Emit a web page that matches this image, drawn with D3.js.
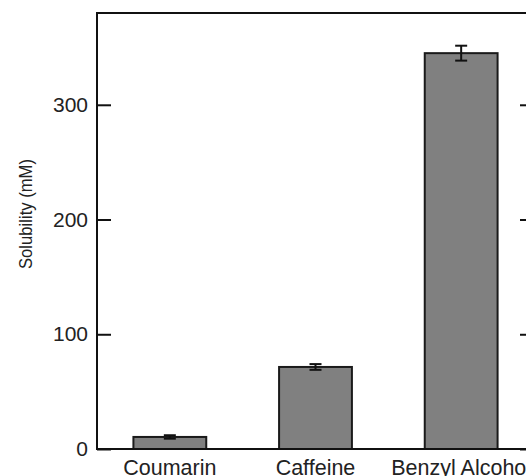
<!DOCTYPE html>
<html>
<head>
<meta charset="utf-8">
<script src="https://cdn.jsdelivr.net/npm/d3@7"></script>
<style>
  html, body { margin: 0; padding: 0; background: #ffffff; }
  svg { display: block; }
  text { font-family: "Liberation Sans", Arial, sans-serif; fill: #222; }
</style>
</head>
<body>
<svg id="chart" width="526" height="476"></svg>
<script>
// Solubility of three solutes, mean ± error
const compounds = ["Coumarin", "Caffeine", "Benzyl Alcohol"];
const solubility = [10.5, 71.5, 345];
const solubilityErr = [1.5, 2.5, 6.5];
const yTicks = [0, 100, 200, 300];
const yTitle = "Solubility (mM)";

const svg = d3.select("#chart");
const plotL = 97, plotR = 534, plotT = 13, plotB = 449;

const x = d3.scaleBand()
  .domain(compounds)
  .range([plotL, plotR])
  .paddingInner(0.5)
  .paddingOuter(0.25);

const y = d3.scaleLinear().domain([0, 380]).range([plotB, plotT]);

const data = compounds.map((c, i) => ({ name: c, value: solubility[i], err: solubilityErr[i] }));

// bars
svg.append("g").selectAll("rect").data(data).join("rect")
  .attr("x", d => x(d.name))
  .attr("y", d => y(d.value))
  .attr("width", x.bandwidth())
  .attr("height", d => y(0) - y(d.value))
  .attr("fill", "#808080")
  .attr("stroke", "#1a1a1a")
  .attr("stroke-width", 2);

// error bars
const capW = 12;
const eb = svg.append("g").attr("stroke", "#111").attr("stroke-width", 2);
data.forEach(d => {
  const cx = x(d.name) + x.bandwidth() / 2;
  eb.append("line").attr("x1", cx).attr("x2", cx)
    .attr("y1", y(d.value + d.err)).attr("y2", y(d.value - d.err));
  [d.value + d.err, d.value - d.err].forEach(v => {
    eb.append("line").attr("x1", cx - capW / 2).attr("x2", cx + capW / 2)
      .attr("y1", y(v)).attr("y2", y(v));
  });
});

// frame
svg.append("rect")
  .attr("x", plotL).attr("y", plotT)
  .attr("width", plotR - plotL).attr("height", plotB - plotT)
  .attr("fill", "none").attr("stroke", "#111").attr("stroke-width", 2);

// left axis with inward ticks
const yAxis = svg.append("g")
  .attr("transform", `translate(${plotL},0)`)
  .call(d3.axisLeft(y).tickValues(yTicks).tickSizeInner(-14).tickSizeOuter(0).tickPadding(9));
yAxis.select(".domain").remove();
yAxis.selectAll("line").attr("stroke", "#111").attr("stroke-width", 2);
yAxis.selectAll("text")
  .style("font-family", '"Liberation Sans", Arial, sans-serif')
  .style("font-size", "21px").attr("fill", "#222");

// right axis, ticks only
const yAxisR = svg.append("g")
  .attr("transform", `translate(${plotR},0)`)
  .call(d3.axisRight(y).tickValues(yTicks).tickSizeInner(-14).tickSizeOuter(0).tickFormat(""));
yAxisR.select(".domain").remove();
yAxisR.selectAll("line").attr("stroke", "#111").attr("stroke-width", 2);

// category labels
svg.append("g").selectAll("text").data(compounds).join("text")
  .attr("x", d => x(d) + x.bandwidth() / 2)
  .attr("y", 474.5)
  .attr("text-anchor", "middle")
  .style("font-size", "21.5px")
  .text(d => d);

// y title
svg.append("text")
  .attr("transform", `translate(32,${(plotT + plotB) / 2 - 17}) rotate(-90)`)
  .attr("text-anchor", "middle")
  .attr("textLength", 110)
  .attr("lengthAdjust", "spacingAndGlyphs")
  .style("font-size", "17.5px")
  .text(yTitle);
</script>
</body>
</html>
